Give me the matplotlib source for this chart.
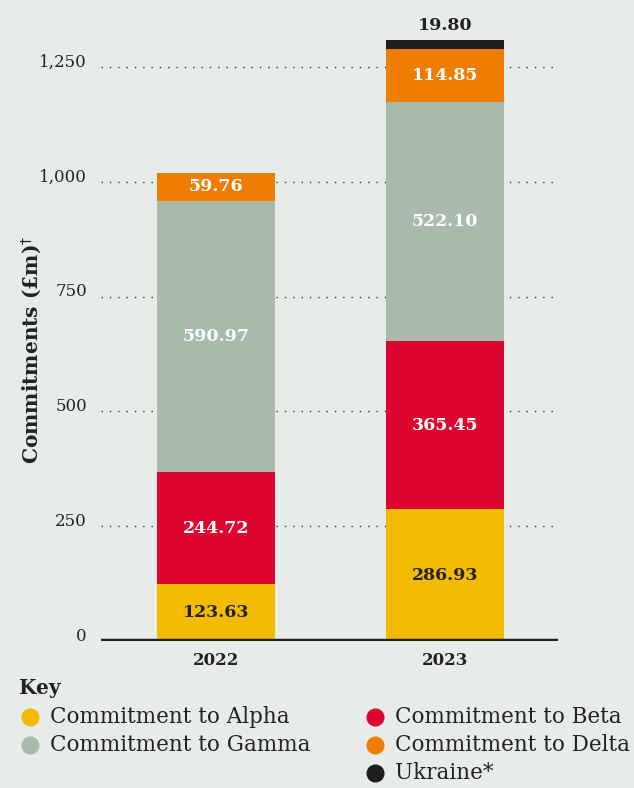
import matplotlib.pyplot as plt
import matplotlib.transforms as mtransforms
from matplotlib.lines import Line2D

# commitments by year (£m)
years = ["2022", "2023"]
alpha = [123.63, 286.93]
beta = [244.72, 365.45]
gamma = [590.97, 522.10]
delta = [59.76, 114.85]
ukraine = [0.0, 19.80]

series_names = ["Commitment to Alpha", "Commitment to Beta", "Commitment to Gamma",
                "Commitment to Delta", "Ukraine*"]
series_values = [alpha, beta, gamma, delta, ukraine]
colors = ["#f2bb00", "#dc0530", "#a9b9ab", "#ef7d00", "#1e1e1e"]
label_colors = ["#222222", "white", "white", "white", "#222222"]

yticks = [0, 250, 500, 750, 1000, 1250]
ytick_labels = ["0", "250", "500", "750", "1,000", "1,250"]

bg = "#e8ece9"
font = "DejaVu Serif"
plt.rcParams["font.family"] = [font]

fig = plt.figure(figsize=(6.34, 7.88), dpi=100, facecolor=bg)
ax = fig.add_axes([0.159, 0.1865, 0.721, 0.775])
ax.set_facecolor(bg)

x = list(range(len(years)))
width = 0.515
bottoms = [0.0] * len(years)
for vals, col, lc in zip(series_values, colors, label_colors):
    ax.bar(x, vals, width, bottom=bottoms, color=col, zorder=3)
    for i, v in enumerate(vals):
        if v <= 0:
            continue
        if v < 30:
            # thin segment: label sits above the bar
            ax.text(x[i], bottoms[i] + v + 12, f"{v:.2f}", ha="center", va="bottom",
                    fontsize=12.5, fontweight="bold", color=lc)
        else:
            ax.text(x[i], bottoms[i] + v / 2, f"{v:.2f}", ha="center", va="center",
                    fontsize=12.5, fontweight="bold", color=lc, zorder=4)
    bottoms = [b + v for b, v in zip(bottoms, vals)]

ax.set_xlim(-0.502, 1.493)
ax.set_ylim(0, 1330)

# dotted guide lines behind the bars
for t in yticks[1:]:
    ax.axhline(t, xmin=0, xmax=0.993, color="#333333", linestyle=(0, (1, 5)),
               linewidth=1, zorder=1)
ax.axhline(0, color="#222222", linewidth=3.2, zorder=5, solid_capstyle="butt")

for s in ax.spines.values():
    s.set_visible(False)
ax.set_yticks(yticks)
ax.set_yticklabels(ytick_labels, fontsize=12, color="#222222")
ax.tick_params(axis="y", length=0, pad=10)
# tick numbers sit a little above their guide lines
lift = mtransforms.ScaledTranslation(0, 5 / 72, fig.dpi_scale_trans)
for lbl in ax.get_yticklabels():
    lbl.set_transform(lbl.get_transform() + lift)
ax.set_xticks(x)
ax.set_xticklabels(years, fontsize=12, fontweight="bold", color="#222222")
ax.tick_params(axis="x", length=0, pad=8)

fig.text(0.050, 0.556, "Commitments (£m)$^{\u2020}$", rotation=90, ha="center",
         va="center", fontsize=14.5, fontweight="bold", color="#222222")

# key
fig.text(0.03, 0.127, "Key", fontsize=14.5, fontweight="bold", color="#222222",
         va="center")
key_pos = [(0.048, 0.090), (0.592, 0.090), (0.048, 0.055), (0.592, 0.055),
           (0.592, 0.019)]
for (kx, ky), name, col in zip(key_pos, series_names, colors):
    fig.add_artist(Line2D([kx], [ky], marker="o", markersize=12, color=col,
                          linestyle="none", transform=fig.transFigure))
    fig.text(kx + 0.031, ky, name, fontsize=15.5, color="#222222", va="center")

fig.savefig("out.png", dpi=100, facecolor=bg)
